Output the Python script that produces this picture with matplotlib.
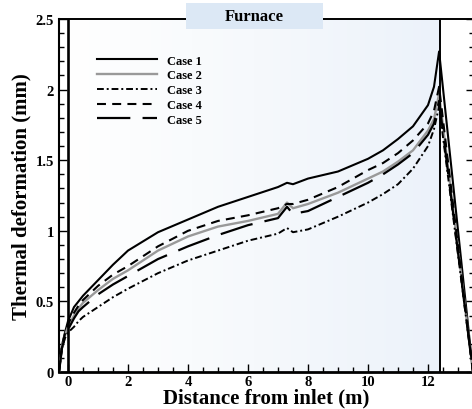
import numpy as np
import matplotlib
matplotlib.use("Agg")
import matplotlib.pyplot as plt
from matplotlib.patches import Rectangle
from matplotlib.ticker import MultipleLocator


# distance from inlet (m), shared by all cases
x_pos = [-0.3, -0.2, -0.1, 0.0, 0.2, 0.35, 0.5, 1.0, 1.5, 2.0, 3.0, 4.0, 5.0, 6.0,
         7.0, 7.3, 7.5, 8.0, 9.0, 10.0, 10.5, 11.0, 11.5, 12.0, 12.2, 12.37, 13.5]

case1 = [0.0, 0.19, 0.28, 0.36, 0.46, 0.50, 0.54, 0.65, 0.76, 0.86, 0.99, 1.08, 1.17, 1.24,
         1.31, 1.34, 1.33, 1.37, 1.42, 1.51, 1.57, 1.65, 1.74, 1.89, 2.02, 2.27, 0.0]
case2 = [0.0, 0.18, 0.26, 0.32, 0.40, 0.45, 0.49, 0.58, 0.66, 0.72, 0.86, 0.96, 1.03, 1.07,
         1.12, 1.20, 1.16, 1.19, 1.27, 1.37, 1.42, 1.49, 1.57, 1.71, 1.79, 1.97, 0.0]
case3 = [0.0, 0.17, 0.24, 0.28, 0.32, 0.36, 0.39, 0.46, 0.53, 0.59, 0.70, 0.79, 0.86, 0.93,
         0.98, 1.02, 0.99, 1.01, 1.10, 1.20, 1.26, 1.33, 1.44, 1.60, 1.72, 1.88, 0.0]
case4 = [0.0, 0.19, 0.27, 0.34, 0.42, 0.47, 0.51, 0.61, 0.69, 0.75, 0.89, 1.00, 1.07, 1.11,
         1.16, 1.19, 1.19, 1.22, 1.31, 1.43, 1.48, 1.55, 1.64, 1.76, 1.85, 2.02, 0.0]
case5 = [0.0, 0.17, 0.25, 0.30, 0.38, 0.43, 0.46, 0.55, 0.62, 0.68, 0.80, 0.89, 0.97, 1.04,
         1.09, 1.17, 1.12, 1.14, 1.24, 1.34, 1.40, 1.47, 1.55, 1.68, 1.76, 1.92, 0.0]

labels = ["Case 1", "Case 2", "Case 3", "Case 4", "Case 5"]
furnace_end = 12.4

plt.rcParams["font.family"] = ["Liberation Serif", "DejaVu Serif"]
plt.rcParams["font.weight"] = "bold"

fig = plt.figure(figsize=(4.72, 4.10), dpi=100)
ax = fig.add_axes([0.125, 0.0902, 0.879, 0.861])

# furnace background gradient
grad = np.linspace(0, 1, 256).reshape(1, -1)
cmap = matplotlib.colors.LinearSegmentedColormap.from_list(
    "furn", ["#ffffff", "#f6f9fc", "#ecf2fa"])
ax.imshow(grad, extent=[0, furnace_end, 0, 2.5], aspect="auto",
          cmap=cmap, zorder=0, interpolation="bilinear")

styles = [
    dict(color="black", lw=1.5, ls="-"),
    dict(color="#999999", lw=1.7, ls="-"),
    dict(color="black", lw=1.4, ls=(0, (3.5, 1.5, 1, 1.5))),
    dict(color="black", lw=1.5, ls=(0, (4.3, 3.0))),
    dict(color="black", lw=1.6, ls=(0, (15, 5.5))),
]
for ys, lab, st in zip([case1, case2, case3, case4, case5], labels, styles):
    ax.plot(x_pos, ys, label=lab, zorder=3, **st)

ax.axvline(0, color="black", lw=1.9, zorder=4)
ax.axvline(furnace_end, color="black", lw=1.4, zorder=4)

ax.set_xlim(-0.3, 13.53)
ax.set_ylim(0, 2.5)

ax.xaxis.set_minor_locator(MultipleLocator(0.5))
ax.yaxis.set_minor_locator(MultipleLocator(0.1))
ax.set_xticks(range(0, 13, 2))
ax.set_yticks([0, 0.5, 1, 1.5, 2, 2.5])
ax.set_yticklabels(["0", "0.5", "1", "1.5", "2", "2.5"])

ax.tick_params(which="both", direction="in", right=True, top=False,
               labelsize=10.5, width=1.0)
ax.tick_params(which="major", length=6)
ax.tick_params(which="minor", length=3.5)
ax.tick_params(axis="x", pad=2)
ax.tick_params(axis="y", pad=3.5)

for side, w in [("left", 1.5), ("bottom", 2.0), ("top", 1.4), ("right", 1.4)]:
    ax.spines[side].set_linewidth(w)

ax.set_xlabel("Distance from inlet (m)", fontsize=15, fontweight="bold", labelpad=0)
ax.set_ylabel("Thermal deformation (mm)", fontsize=15, fontweight="bold", labelpad=3)

ax.legend(loc="upper left", bbox_to_anchor=(0.0916, 0.899), frameon=False,
          fontsize=9, handlelength=4.8, handletextpad=0.8, labelspacing=0.22,
          borderpad=0, borderaxespad=0)

# "Furnace" label box on the top spine
ax.add_patch(Rectangle((3.93, 2.43), 4.57, 0.18, facecolor="#dce8f5",
                       edgecolor="none", clip_on=False, zorder=5))
ax.text(6.2, 2.52, "Furnace", ha="center", va="center", fontsize=12,
        fontweight="bold", zorder=6, clip_on=False)

fig.savefig("out.png", dpi=100)
